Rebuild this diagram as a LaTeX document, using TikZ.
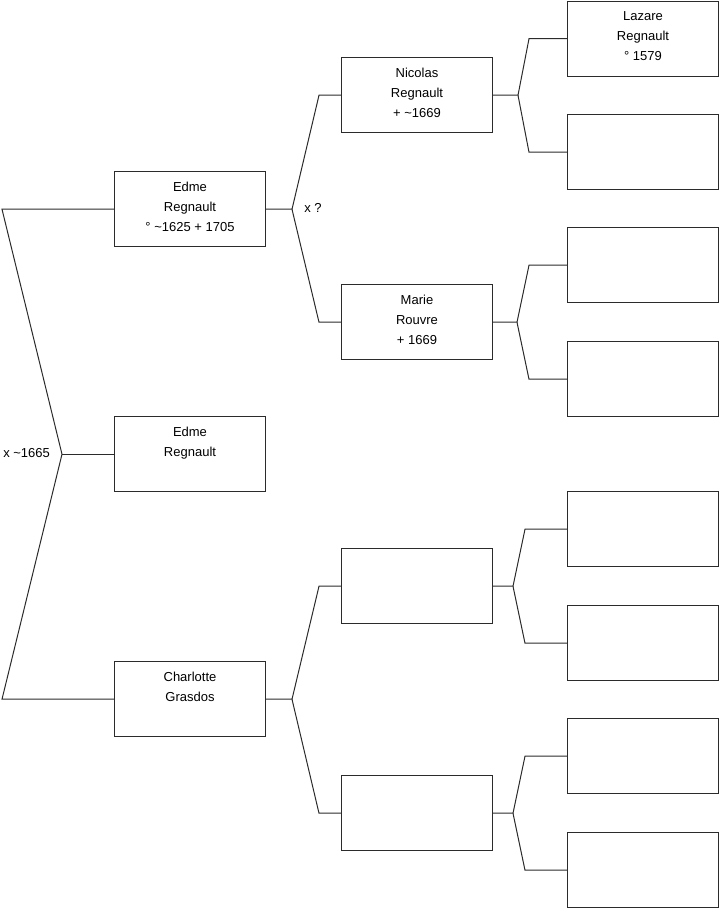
\documentclass[tikz,border=0pt]{standalone}
\usepackage{fontspec}
\setmainfont{Liberation Sans}
\usepackage{xcolor}
\definecolor{trait}{HTML}{2B2B2B}
\usetikzlibrary{positioning,calc}

\begin{document}
\begin{tikzpicture}[x=0.75pt,y=-0.75pt,font=\fontsize{9.75}{15}\selectfont,
    personne/.style={draw=trait,line width=0.75pt,minimum width=113.25pt,minimum height=56.6pt,inner sep=0pt,anchor=north west},
    nom/.style={anchor=north,align=center,inner sep=0pt},
    lien/.style={draw=trait,line width=0.75pt}]
  \useasboundingbox (0,0) rectangle (719,908);
  % cases
  \foreach \id/\x/\y/\texte in {
    e1/114/171/{Edme\\Regnault\\° \textasciitilde1625 + 1705},
    e2/114/416/{Edme\\Regnault},
    c1/114/661/{Charlotte\\Grasdos},
    n1/341/57/{Nicolas\\Regnault\\+ \textasciitilde1669},
    m1/341/284/{Marie\\Rouvre\\+ 1669},
    p3/341/548/{},
    p4/341/775/{},
    a1/567/0.5/{Lazare\\Regnault\\° 1579},
    a2/567/114/{},
    a3/567/227/{},
    a4/567/341/{},
    a5/567/491/{},
    a6/567/605/{},
    a7/567/718/{},
    a8/567/832/{}} {
    \node[personne] (\id) at (\x,\y) {};
    \node[nom] (t\id) at ($(\id.north)+(0,10.5)$) {\texte};
  }
  % fourches
  \foreach \pere/\decal/\haut/\bas/\recul in {
    e1/26/n1/m1/22, c1/26/p3/p4/22,
    n1/25/a1/a2/38, m1/24/a3/a4/38,
    p3/20/a5/a6/42, p4/20/a7/a8/42} {
    \coordinate (f\pere) at ($(\pere.east)+(\decal,0)$);
    \draw[lien] (\pere.east) -- (f\pere) -- ($(\haut.west)+(-\recul,0)$) -- (\haut.west);
    \draw[lien] (f\pere) -- ($(\bas.west)+(-\recul,0)$) -- (\bas.west);
  }
  % racine
  \coordinate (racine) at ($(e2.west)+(-52,0)$);
  \coordinate (h0) at ($(e1.west)+(-112,0)$);
  \coordinate (b0) at ($(c1.west)+(-112,0)$);
  \draw[lien] (e1.west) -- (h0) -- (racine) -- (b0) -- (c1.west);
  \draw[lien] (racine) -- (e2.west);
  \node[anchor=west,inner sep=0pt] (mariage1) at (3,453) {x \textasciitilde1665};
  \node[anchor=west,inner sep=0pt] (mariage2) at (304,208) {x ?};
\end{tikzpicture}
\end{document}
